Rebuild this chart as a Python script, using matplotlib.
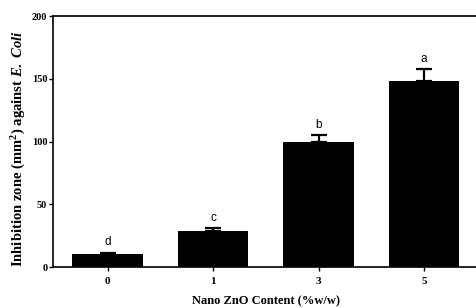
import matplotlib
matplotlib.use("Agg")
import matplotlib.pyplot as plt
import numpy as np

# Data
categories = ['0', '1', '3', '5']
zone_means = [10.5, 29, 100, 148]
zone_errors = [1, 2, 5, 9.5]
group_letters = ['d', 'c', 'b', 'a']
y_ticks = [0, 50, 100, 150, 200]

plt.rcParams['font.family'] = 'Liberation Serif'
plt.rcParams['font.weight'] = 'bold'
plt.rcParams['mathtext.fontset'] = 'custom'
plt.rcParams['mathtext.rm'] = 'Liberation Serif:bold'
plt.rcParams['mathtext.it'] = 'Liberation Serif:italic:bold'
plt.rcParams['mathtext.bf'] = 'Liberation Serif:bold'

fig = plt.figure(figsize=(4.76, 3.08), dpi=100)
ax = fig.add_axes([0.111, 0.133, 0.895, 0.815])

x = np.arange(len(categories))
ax.bar(x, zone_means, width=0.67, color='black', zorder=2)
ax.errorbar(x, zone_means, yerr=[np.zeros(len(x)), zone_errors], fmt='none',
            ecolor='black', elinewidth=1.6, capsize=6, capthick=1.6, zorder=3)

# significance letters above the error bars
for xi, m, e, lab in zip(x, zone_means, zone_errors, group_letters):
    ax.annotate(lab, (xi, m + e), xytext=(0, 3), textcoords='offset points',
                ha='center', va='bottom', fontsize=8.5, fontweight='normal',
                family='Liberation Sans')

ax.set_xlim(-0.52, 3.52)
ax.set_ylim(0, 200)
ax.set_xticks(x)
ax.set_xticklabels(categories, fontsize=8, fontweight='bold')
ax.set_yticks(y_ticks)
ax.set_yticklabels([str(t) for t in y_ticks], fontsize=7.5, fontweight='bold')
ax.tick_params(axis='both', direction='out', length=3, width=1)
ax.tick_params(axis='x', pad=4)
ax.tick_params(axis='y', pad=1)

for side in ['left', 'bottom', 'top', 'right']:
    ax.spines[side].set_linewidth(1.2)

ax.set_xlabel('Nano ZnO Content (%w/w)', fontsize=9, fontweight='bold', labelpad=7)
ax.set_ylabel(r'Inhibition zone (mm$^{\mathrm{2}}$) against $\mathit{E.\ Coli}$',
              fontsize=10.5, fontweight='bold')
ax.yaxis.set_label_coords(-0.058, 0.47)

fig.savefig('out.png', dpi=100)
